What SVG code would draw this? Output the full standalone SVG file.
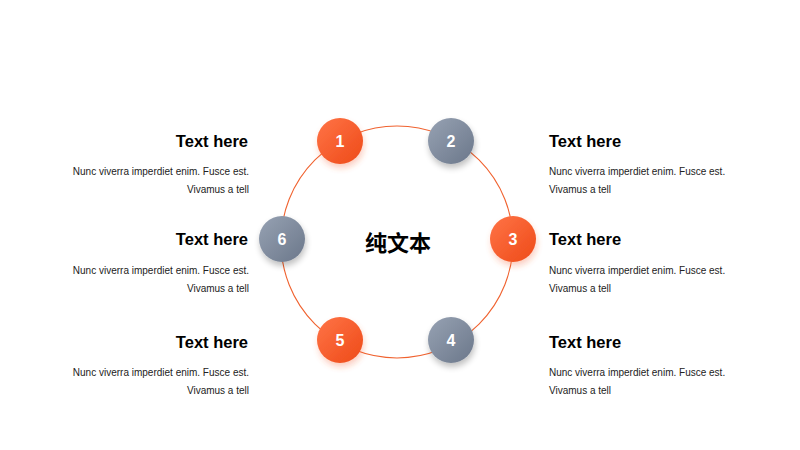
<svg xmlns="http://www.w3.org/2000/svg" width="800" height="450" viewBox="0 0 800 450">
<defs>
<linearGradient id="gO" x1="0" y1="0" x2="1" y2="1"><stop offset="0" stop-color="#ff7446"/><stop offset="1" stop-color="#ee4a18"/></linearGradient>
<linearGradient id="gG" x1="0" y1="0" x2="1" y2="1"><stop offset="0" stop-color="#97a2b3"/><stop offset="1" stop-color="#6b778a"/></linearGradient>
<filter id="sh" x="-50%" y="-50%" width="200%" height="200%"><feGaussianBlur in="SourceAlpha" stdDeviation="3"/><feOffset dx="1" dy="4"/><feComponentTransfer><feFuncA type="linear" slope="0.25"/></feComponentTransfer><feMerge><feMergeNode/><feMergeNode in="SourceGraphic"/></feMerge></filter>
<filter id="shO" x="-50%" y="-50%" width="200%" height="200%"><feGaussianBlur in="SourceGraphic" stdDeviation="3"/><feOffset dx="1" dy="4"/><feComponentTransfer><feFuncA type="linear" slope="0.3"/></feComponentTransfer><feMerge><feMergeNode/><feMergeNode in="SourceGraphic"/></feMerge></filter>
</defs>
<style>
.num{font-family:"Liberation Sans",Arial,sans-serif;font-size:16px;font-weight:bold;fill:#fff;text-anchor:middle}
.t{font-family:"Liberation Sans",Arial,sans-serif;font-size:16.5px;font-weight:bold;fill:#000}
.b{font-family:"Liberation Sans",Arial,sans-serif;font-size:10px;fill:#222}
.l{text-anchor:end}
</style>
<rect width="800" height="450" fill="#fff"/>
<g id="connectors">
<circle cx="397" cy="242" r="116" fill="none" stroke="#f0622f" stroke-width="1.1"/>
</g>
<g id="center"><text x="398" y="251" font-family="'Noto Sans CJK SC',sans-serif" font-size="22" font-weight="bold" text-anchor="middle" fill="#000">纯文本</text></g>
<g id="n1"><circle cx="340" cy="141" r="23" fill="url(#gO)" filter="url(#shO)"/><text class="num" x="340" y="147">1</text></g>
<g id="n2"><circle cx="451" cy="141" r="23" fill="url(#gG)" filter="url(#sh)"/><text class="num" x="451" y="147">2</text></g>
<g id="n3"><circle cx="513" cy="239" r="23" fill="url(#gO)" filter="url(#shO)"/><text class="num" x="513" y="245">3</text></g>
<g id="n4"><circle cx="451" cy="340" r="23" fill="url(#gG)" filter="url(#sh)"/><text class="num" x="451" y="346">4</text></g>
<g id="n5"><circle cx="340" cy="340" r="23" fill="url(#gO)" filter="url(#shO)"/><text class="num" x="340" y="346">5</text></g>
<g id="n6"><circle cx="282" cy="239" r="23" fill="url(#gG)" filter="url(#sh)"/><text class="num" x="282" y="245">6</text></g>
<g id="txt1"><text class="t l" x="248" y="147">Text here</text><text class="b l" x="249" y="175">Nunc viverra imperdiet enim. Fusce est.</text><text class="b l" x="249" y="193">Vivamus a tell</text></g>
<g id="txt6"><text class="t l" x="248" y="245">Text here</text><text class="b l" x="249" y="274">Nunc viverra imperdiet enim. Fusce est.</text><text class="b l" x="249" y="292">Vivamus a tell</text></g>
<g id="txt5"><text class="t l" x="248" y="348">Text here</text><text class="b l" x="249" y="376">Nunc viverra imperdiet enim. Fusce est.</text><text class="b l" x="249" y="394">Vivamus a tell</text></g>
<g id="txt2"><text class="t" x="549" y="147">Text here</text><text class="b" x="549" y="175">Nunc viverra imperdiet enim. Fusce est.</text><text class="b" x="549" y="193">Vivamus a tell</text></g>
<g id="txt3"><text class="t" x="549" y="245">Text here</text><text class="b" x="549" y="274">Nunc viverra imperdiet enim. Fusce est.</text><text class="b" x="549" y="292">Vivamus a tell</text></g>
<g id="txt4"><text class="t" x="549" y="348">Text here</text><text class="b" x="549" y="376">Nunc viverra imperdiet enim. Fusce est.</text><text class="b" x="549" y="394">Vivamus a tell</text></g>
</svg>
